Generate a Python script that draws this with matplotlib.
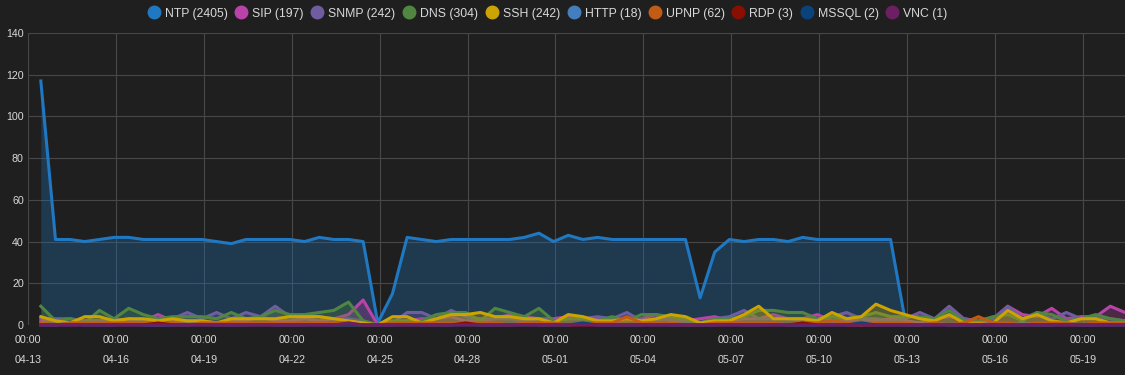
import matplotlib
matplotlib.use('Agg')
import matplotlib.pyplot as plt
from matplotlib.lines import Line2D
import pandas as pd

# ---- data (12-hour buckets) ----
times = pd.date_range('2021-04-13 10:30', periods=75, freq='12h')

ntp = [117,41,41,40,41,42,42,41,41,41, 41,41,40,39,41,41,41,41,40,42,
       41,41,40,1,15,42,41,40,41,41, 41,41,41,42,44,40,43,41,42,41,
       41,41,41,41,41,13,35,41,40,41, 41,40,42,41,41,41,41,41,41,2,
       0,1,0,0,1,0,0,1,0,0, 1,0,0,1,0]
sip = [2,2,1,2,2,3,2,2,5,2, 2,2,1,2,2,4,2,2,3,2,
       3,5,12,0,1,2,3,3,4,2, 2,3,5,4,3,3,4,3,3,2,
       2,3,5,2,2,3,4,2,3,3, 5,3,3,5,2,2,3,2,3,2,
       1,3,4,3,2,3,9,5,4,8, 3,4,4,9,6]
snmp = [3,3,3,2,2,2,3,2,3,3, 6,3,6,3,6,4,9,4,5,4,
        3,3,2,0,1,6,6,3,7,4, 3,3,3,2,3,2,3,3,4,3,
        6,2,2,3,2,1,3,4,7,3, 3,3,2,3,4,6,3,3,2,3,
        6,3,9,3,2,3,9,3,6,3, 6,3,4,3,2]
dns = [9,2,3,1,7,3,8,5,3,4, 4,4,3,6,3,4,7,5,5,6,
       7,11,2,0,2,2,2,5,6,6, 2,8,6,4,8,2,3,3,2,4,
       2,5,5,4,3,1,3,3,4,7, 7,6,6,3,4,3,4,6,4,4,
       4,3,7,2,2,4,5,2,6,5, 2,3,5,3,2]
ssh = [4,2,1,4,4,2,3,3,2,3, 2,2,1,3,3,3,3,4,4,4,
       3,2,1,0,4,4,1,3,5,5, 6,4,4,3,3,1,5,4,2,2,
       3,2,3,5,4,1,2,2,5,9, 3,3,3,2,6,3,4,10,7,5,
       3,2,5,1,1,1,7,3,5,2, 1,3,3,1,1]
http = [0,0,1,0,0,0,1,0,0,0, 0,1,0,0,0,1,0,0,0,1,
        0,0,0,0,0,1,0,0,0,1, 0,0,0,1,0,0,0,1,0,0,
        0,0,1,0,0,0,0,1,0,0, 1,0,0,0,1,0,0,0,1,0,
        0,1,0,0,0,1,0,0,0,0, 1,0,0,0,0]
upnp = [1,0,1,1,1,1,1,1,0,1, 0,1,1,1,1,1,1,1,1,1,
        1,1,0,0,1,1,1,1,1,1, 1,1,0,1,1,1,0,1,1,1,
        4,1,1,1,0,0,1,1,1,1, 1,0,1,1,2,1,0,1,1,1,
        0,1,0,1,4,1,1,0,1,1, 1,0,1,1,1]
rdp = [0]*8 + [1] + [0]*20 + [1] + [0]*22 + [1] + [0]*22
mssql = [0]*37 + [1] + [0]*18 + [1] + [0]*18
vnc = [0]*21 + [1] + [0]*53

names = ['NTP', 'SIP', 'SNMP', 'DNS', 'SSH', 'HTTP', 'UPNP', 'RDP', 'MSSQL', 'VNC']
totals = [2405, 197, 242, 304, 242, 18, 62, 3, 2, 1]
values = [ntp, sip, snmp, dns, ssh, http, upnp, rdp, mssql, vnc]
colors = ['#1F78C1', '#BA43A9', '#705DA0', '#508642', '#CCA300',
          '#447EBC', '#C15C17', '#890F02', '#0A437C', '#6D1F62']

tick_dates = pd.date_range('2021-04-13', '2021-05-19', freq='3D')
y_ticks = [0, 20, 40, 60, 80, 100, 120, 140]

# ---- style ----
bg = '#1f1f1f'
txt = '#d8d9da'
grid = '#474747'
plt.rcParams['font.family'] = ['Liberation Sans', 'DejaVu Sans']

fig = plt.figure(figsize=(11.25, 3.75), dpi=100, facecolor=bg)
ax = fig.add_axes([28 / 1125, 50 / 375, 1097 / 1125, 292 / 375])
ax.set_facecolor(bg)

for i, (vals, col) in enumerate(zip(values, colors)):
    ax.fill_between(times, vals, 0, color=col, alpha=0.3, lw=0, zorder=2 + 2 * i)
    ax.plot(times, vals, color=col, lw=2.2, zorder=3 + 2 * i, clip_on=False,
            solid_joinstyle='round')

ax.set_ylim(0, 140)
ax.set_xlim(pd.Timestamp('2021-04-13 00:00'), times[-1])
ax.set_yticks(y_ticks)
ax.set_xticks(tick_dates)
ax.set_xticklabels([d.strftime('%H:%M') + '\n' + d.strftime('%m-%d') for d in tick_dates],
                   linespacing=2.3)
ax.tick_params(axis='both', length=0, colors=txt, labelsize=7.7)
ax.tick_params(axis='x', pad=7)
ax.tick_params(axis='y', pad=3)
ax.grid(True, color=grid, lw=0.8, zorder=1)
for s in ax.spines.values():
    s.set_visible(False)

handles = [Line2D([], [], marker='o', ls='none', markersize=9, markerfacecolor=c,
                  markeredgecolor=c) for c in colors]
labels = [f'{n} ({t})' for n, t in zip(names, totals)]
leg = fig.legend(handles, labels, loc='upper center', ncol=10,
                 bbox_to_anchor=(548 / 1125, 1.0 + 1 / 375), frameon=False,
                 fontsize=8.8, handlelength=0.9, handletextpad=0.45,
                 columnspacing=0.66, borderaxespad=0.3)
for t in leg.get_texts():
    t.set_color(txt)

fig.savefig('out.png', dpi=100, facecolor=bg)
